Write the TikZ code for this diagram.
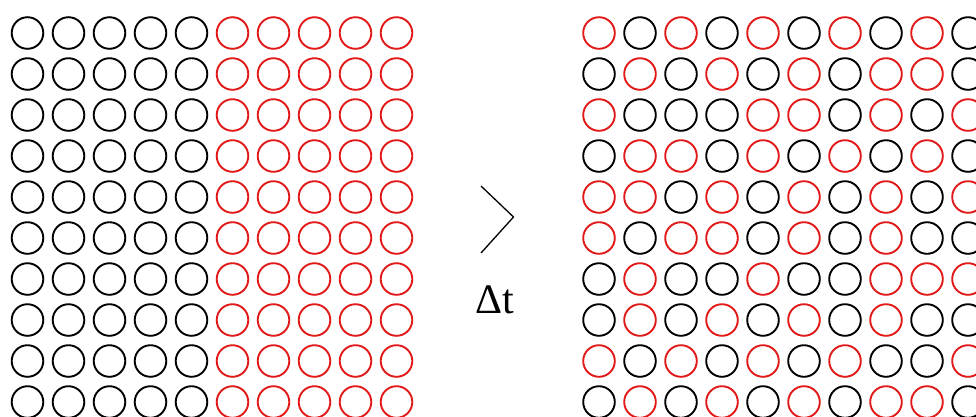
\documentclass[tikz,border=0pt]{standalone}
\usepackage{fontspec}
\setmainfont{Liberation Serif}
\definecolor{ringred}{RGB}{225,25,25}
\begin{document}
\begin{tikzpicture}[x=1pt,y=-1pt,
  ring/.style={circle,draw,line width=1.9pt,inner sep=0pt,minimum size=31.6pt},
  blk/.style={ring,draw=black},
  rd/.style={ring,draw=ringred},
  chev/.style={line width=1.3pt,line join=miter},
  lbl/.style={inner sep=0pt}]
\useasboundingbox (0,0) rectangle (976,416);
% left grid
\foreach \j in {0,...,9}{
  \foreach \i in {0,...,9}{
    \ifnum\i<5
      \node[blk] (L-\j-\i) at ({27.5+41*\i},{33+41*\j}) {};
    \else
      \node[rd] (L-\j-\i) at ({27.5+41*\i},{33+41*\j}) {};
    \fi
  }
}
% right grid (1 = red)
\foreach \row [count=\j from 0] in {
  {1,0,1,0,1,0,1,0,1,0},
  {0,1,0,1,0,1,0,1,1,0},
  {1,0,0,0,1,1,0,1,0,1},
  {0,1,1,0,1,0,1,0,1,0},
  {1,1,0,1,0,1,0,1,0,1},
  {1,0,1,1,0,1,0,1,0,0},
  {0,1,0,0,1,0,0,1,1,1},
  {0,1,0,1,0,1,0,1,0,0},
  {1,0,1,0,1,0,1,0,0,1},
  {0,1,0,1,0,1,0,1,1,0}}{
  \foreach \c [count=\i from 0] in \row {
    \ifnum\c=1
      \node[rd] (R-\j-\i) at ({599+41*\i},{33+41*\j}) {};
    \else
      \node[blk] (R-\j-\i) at ({599+41*\i},{33+41*\j}) {};
    \fi
  }
}
% chevron
\coordinate (cA) at (481,186);
\coordinate (cB) at (513.5,217);
\coordinate (cC) at (481,253);
\draw[chev] (cA) -- (cB) -- (cC);
\node[lbl,anchor=base] (dt) at (495,313) {\fontsize{42}{46}\selectfont Δt};
\end{tikzpicture}
\end{document}
